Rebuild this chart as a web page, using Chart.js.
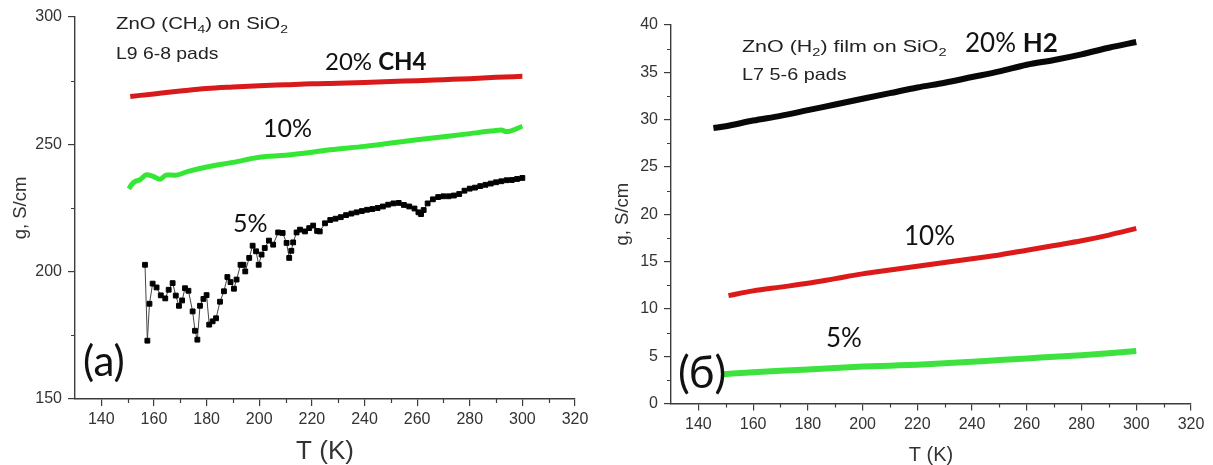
<!DOCTYPE html>
<html>
<head>
<meta charset="utf-8">
<script src="https://cdn.jsdelivr.net/npm/chart.js@4.4.1/dist/chart.umd.min.js"></script>
<style>
  html, body { margin: 0; padding: 0; background: #fff; }
  #wrap { position: relative; width: 1213px; height: 465px; overflow: hidden; }
  .panel { position: absolute; top: 0; height: 465px; }
  #left { left: 0; width: 600px; }
  #right { left: 600px; width: 613px; }
</style>
</head>
<body>
<div id="wrap">
  <div class="panel" id="left"><canvas id="chartA"></canvas></div>
  <div class="panel" id="right"><canvas id="chartB"></canvas></div>
</div>
<script>
// ---- panel (a): ZnO (CH4) on SiO2, L9 6-8 pads ----
const tA20 = [151, 160, 170, 180, 190, 200, 210, 220, 230, 240, 250, 260, 270, 280, 290, 300]
const gA20 = [268.8, 269.8, 270.9, 271.9, 272.5, 273.0, 273.4, 273.8, 274.0, 274.3, 274.7, 275.0, 275.4, 275.8, 276.3, 276.7]

const tA10 = [150.5, 151.5, 153, 154.7, 157.2, 159.7, 162.3, 164.8, 168, 173, 180, 190, 200, 210, 220, 227, 240, 250, 260, 270, 280, 288, 292, 294, 300]
const gA10 = [232.5, 234.2, 235.5, 236.1, 238.1, 237.4, 236.3, 238.0, 237.9, 239.4, 241.1, 242.9, 244.9, 245.7, 246.9, 247.9, 249.2, 250.5, 251.8, 253.0, 254.2, 255.2, 255.6, 255.0, 257.1]

const tA5 = [156.6, 157.5, 158.3, 159.5, 161.0, 162.6, 164.3, 165.6, 167.1, 168.3, 169.5, 170.7, 171.8, 173.1, 174.7, 175.6, 176.5, 177.5, 178.8, 180.0, 181.0, 182.3, 183.6, 185.1, 186.6, 187.9, 189.1, 190.4, 191.4, 192.9, 194.0, 194.7, 196.2, 197.5, 198.8, 199.8, 200.9, 202.1, 203.7, 205.3, 207.2, 208.9, 210.4, 211.4, 212.2, 212.9, 214.2, 215.5, 217.4, 219.0, 220.5, 222.0, 223.0,
  225, 227, 229, 231, 233, 235, 237, 239, 241, 243, 245, 247, 249, 251, 253, 255, 257, 259, 260.5, 261.5, 262.5, 264, 266, 268, 270, 272, 274, 276, 278, 280, 282, 284, 286, 288, 290, 292, 294, 296, 298, 300]
const gA5 = [202.7, 172.9, 187.4, 195.3, 193.8, 190.7, 189.5, 192.9, 195.5, 190.6, 186.6, 188.7, 193.5, 192.5, 184.4, 176.8, 173.3, 186.6, 189.3, 190.8, 179.2, 180.5, 181.7, 188.2, 192.3, 197.9, 195.9, 193.3, 196.9, 202.7, 202.7, 200.1, 205.4, 210.2, 208.0, 202.7, 206.7, 209.3, 212.2, 210.6, 215.4, 215.2, 211.3, 205.4, 208.2, 211.5, 215.4, 216.5, 215.8, 217.1, 218.1, 216.0, 215.8,
  219.0, 220.3, 220.8, 221.4, 222.2, 222.8, 223.3, 223.8, 224.3, 224.6, 225.0, 225.6, 226.3, 226.8, 227.0, 226.2, 225.6, 224.8, 223.3, 222.6, 224.2, 226.8, 228.4, 229.3, 229.6, 229.6, 229.9, 230.5, 231.8, 232.6, 233.0, 233.6, 234.1, 234.6, 235.1, 235.5, 235.9, 236.0, 236.4, 236.8]

// ---- panel (б): ZnO (H2) film on SiO2, L7 5-6 pads ----
const tB20 = [145.5, 150, 160, 170, 180, 190, 200, 210, 220, 230, 240, 250, 260, 270, 280, 290, 300]
const gB20 = [29.1, 29.3, 29.9, 30.4, 31.0, 31.6, 32.2, 32.8, 33.4, 33.9, 34.5, 35.1, 35.8, 36.3, 36.9, 37.6, 38.2]

const tB10 = [151, 160, 170, 180, 190, 200, 210, 220, 230, 240, 250, 260, 270, 280, 290, 300]
const gB10 = [11.4, 11.9, 12.3, 12.7, 13.2, 13.7, 14.1, 14.5, 14.9, 15.3, 15.7, 16.2, 16.7, 17.2, 17.8, 18.5]

const tB5 = [149, 160, 170, 180, 190, 200, 210, 220, 230, 240, 250, 260, 270, 280, 290, 300]
const gB5 = [3.1, 3.3, 3.45, 3.6, 3.75, 3.9, 4.0, 4.1, 4.25, 4.4, 4.6, 4.75, 4.95, 5.1, 5.3, 5.55]

// ---- axes ----
const xTicks = [140, 160, 180, 200, 220, 240, 260, 280, 300, 320]
const xMinor = [150, 170, 190, 210, 230, 250, 270, 290, 310]
const yTicksA = [150, 200, 250, 300]
const yMinorA = [175, 225, 275]
const yTicksB = [0, 5, 10, 15, 20, 25, 30, 35, 40]
const yMinorB = [2.5, 7.5, 12.5, 17.5, 22.5, 27.5, 32.5, 37.5]

const AXIS = "#3c3c3c"
const TICK_TEXT = "#333"
const ARIAL = "'Liberation Sans', Arial, sans-serif"
const CALI = "Lato, 'Noto Sans', 'Open Sans', sans-serif"

const pts = (xs, ys) => xs.map((x, i) => ({ x, y: ys[i] }))
const setTicks = vals => scale => { scale.ticks = vals.map(v => ({ value: v })) }

// short outward minor ticks, placed through the chart's own scales
const minorTicks = (xm, ym) => ({
  id: "minorTicks",
  afterDraw(chart) {
    const { ctx, scales: { x, y } } = chart
    ctx.save()
    ctx.strokeStyle = AXIS
    ctx.lineWidth = 1.2
    ctx.beginPath()
    xm.forEach(v => {
      const px = Math.round(x.getPixelForValue(v)) + 0.5
      ctx.moveTo(px, x.top); ctx.lineTo(px, x.top + 4)
    })
    ym.forEach(v => {
      const py = Math.round(y.getPixelForValue(v)) + 0.5
      ctx.moveTo(y.right, py); ctx.lineTo(y.right - 4, py)
    })
    ctx.stroke()
    ctx.restore()
  }
})

// in-plot annotations (runs of text, subscripts, bold)
const notes = items => ({
  id: "notes",
  afterDraw(chart) {
    const ctx = chart.ctx
    items.forEach(it => {
      ctx.save()
      ctx.translate(it.x, it.y)
      ctx.scale(it.stretch || 1, 1)
      ctx.fillStyle = it.color || "#111"
      ctx.textBaseline = "alphabetic"
      let cx = 0
      it.parts.forEach(p => {
        const part = typeof p === "string" ? { t: p } : p
        const size = part.sub ? it.size * 0.68 : it.size
        ctx.font = `${part.bold ? "bold " : ""}${size}px ${it.family}`
        ctx.fillText(part.t, cx, part.sub ? it.size * 0.22 : 0)
        cx += ctx.measureText(part.t).width
      })
      ctx.restore()
    })
  }
})

function axes(yMin, yMax, yTicks, yWidth, xHeight, yTitlePad, xTitleSize, xTitlePad) {
  const grid = { display: true, drawOnChartArea: false, drawTicks: true, tickLength: 7, color: AXIS, lineWidth: 1.2 }
  return {
    x: {
      type: "linear", min: 130, max: 320,
      afterBuildTicks: setTicks(xTicks),
      afterFit: s => { s.height = xHeight },
      grid,
      border: { display: true, color: AXIS, width: 1.4 },
      ticks: { color: TICK_TEXT, font: { family: ARIAL, size: 16 }, padding: 4, maxRotation: 0, autoSkip: false },
      title: { display: true, text: "T (K)", color: "#333", font: { family: ARIAL, size: xTitleSize, lineHeight: 1 }, padding: { top: xTitlePad, bottom: 0 } }
    },
    y: {
      type: "linear", min: yMin, max: yMax,
      afterBuildTicks: setTicks(yTicks),
      afterFit: s => { s.width = yWidth },
      grid,
      border: { display: true, color: AXIS, width: 1.4 },
      ticks: { color: TICK_TEXT, font: { family: ARIAL, size: 16 }, padding: 6, autoSkip: false },
      title: { display: true, text: "g, S/cm", color: "#333", font: { family: ARIAL, size: 18.5, lineHeight: 1 }, padding: { top: yTitlePad, bottom: 0 } }
    }
  }
}

const thick = (data, color, w) => ({
  data, borderColor: color, backgroundColor: color, borderWidth: w,
  showLine: true, pointRadius: 0, cubicInterpolationMode: "monotone"
})

const base = {
  animation: false,
  responsive: true,
  maintainAspectRatio: false,
  plugins: { legend: { display: false }, tooltip: { enabled: false } }
}

new Chart(document.getElementById("chartA"), {
  type: "scatter",
  data: {
    datasets: [
      thick(pts(tA20, gA20), "#d81a1a", 5),
      thick(pts(tA10, gA10), "#35e635", 5),
      {
        data: pts(tA5, gA5), borderColor: "#444", borderWidth: 1, showLine: true,
        pointStyle: "rect", pointRadius: 3.4, pointBorderWidth: 1,
        pointBackgroundColor: "#000", pointBorderColor: "#000"
      }
    ]
  },
  options: {
    ...base,
    layout: { padding: { top: 17, right: 25, left: 0, bottom: 0 } },
    scales: axes(150, 300, yTicksA, 75, 66, 12, 26, 0)
  },
  plugins: [
    minorTicks(xMinor, yMinorA),
    notes([
      { x: 116, y: 29, size: 17, family: ARIAL, stretch: 1.2, color: "#222", parts: ["ZnO (CH", { t: "4", sub: true }, ") on SiO", { t: "2", sub: true }] },
      { x: 116, y: 59, size: 17, family: ARIAL, stretch: 1.14, color: "#222", parts: ["L9 6-8 pads"] },
      { x: 325, y: 70, size: 24, family: CALI, parts: ["20% ", { t: "CH4", bold: true }] },
      { x: 263, y: 137, size: 25, family: CALI, parts: ["10%"] },
      { x: 233, y: 232, size: 25, family: CALI, parts: ["5%"] },
      { x: 83, y: 376, size: 42, family: CALI, parts: ["(a)"] }
    ])
  ]
})

new Chart(document.getElementById("chartB"), {
  type: "scatter",
  data: {
    datasets: [
      thick(pts(tB20, gB20), "#080808", 6),
      thick(pts(tB10, gB10), "#dc1a1a", 5),
      thick(pts(tB5, gB5), "#3ee23e", 6)
    ]
  },
  options: {
    ...base,
    layout: { padding: { top: 25, right: 22, left: 0, bottom: 0 } },
    scales: axes(0, 40, yTicksB, 71, 61.5, 14, 20, 5)
  },
  plugins: [
    minorTicks(xMinor, yMinorB),
    notes([
      { x: 142, y: 52, size: 16.5, family: ARIAL, stretch: 1.3, color: "#222", parts: ["ZnO (H", { t: "2", sub: true }, ") film on SiO", { t: "2", sub: true }] },
      { x: 142, y: 80, size: 16.5, family: ARIAL, stretch: 1.2, color: "#222", parts: ["L7 5-6 pads"] },
      { x: 365, y: 52, size: 26, family: CALI, parts: ["20% ", { t: "H2", bold: true }] },
      { x: 304, y: 245, size: 26, family: CALI, parts: ["10%"] },
      { x: 226, y: 347, size: 26, family: CALI, parts: ["5%"] },
      { x: 78, y: 388, size: 44, family: CALI, parts: ["(б)"] }
    ])
  ]
})
</script>
</body>
</html>
